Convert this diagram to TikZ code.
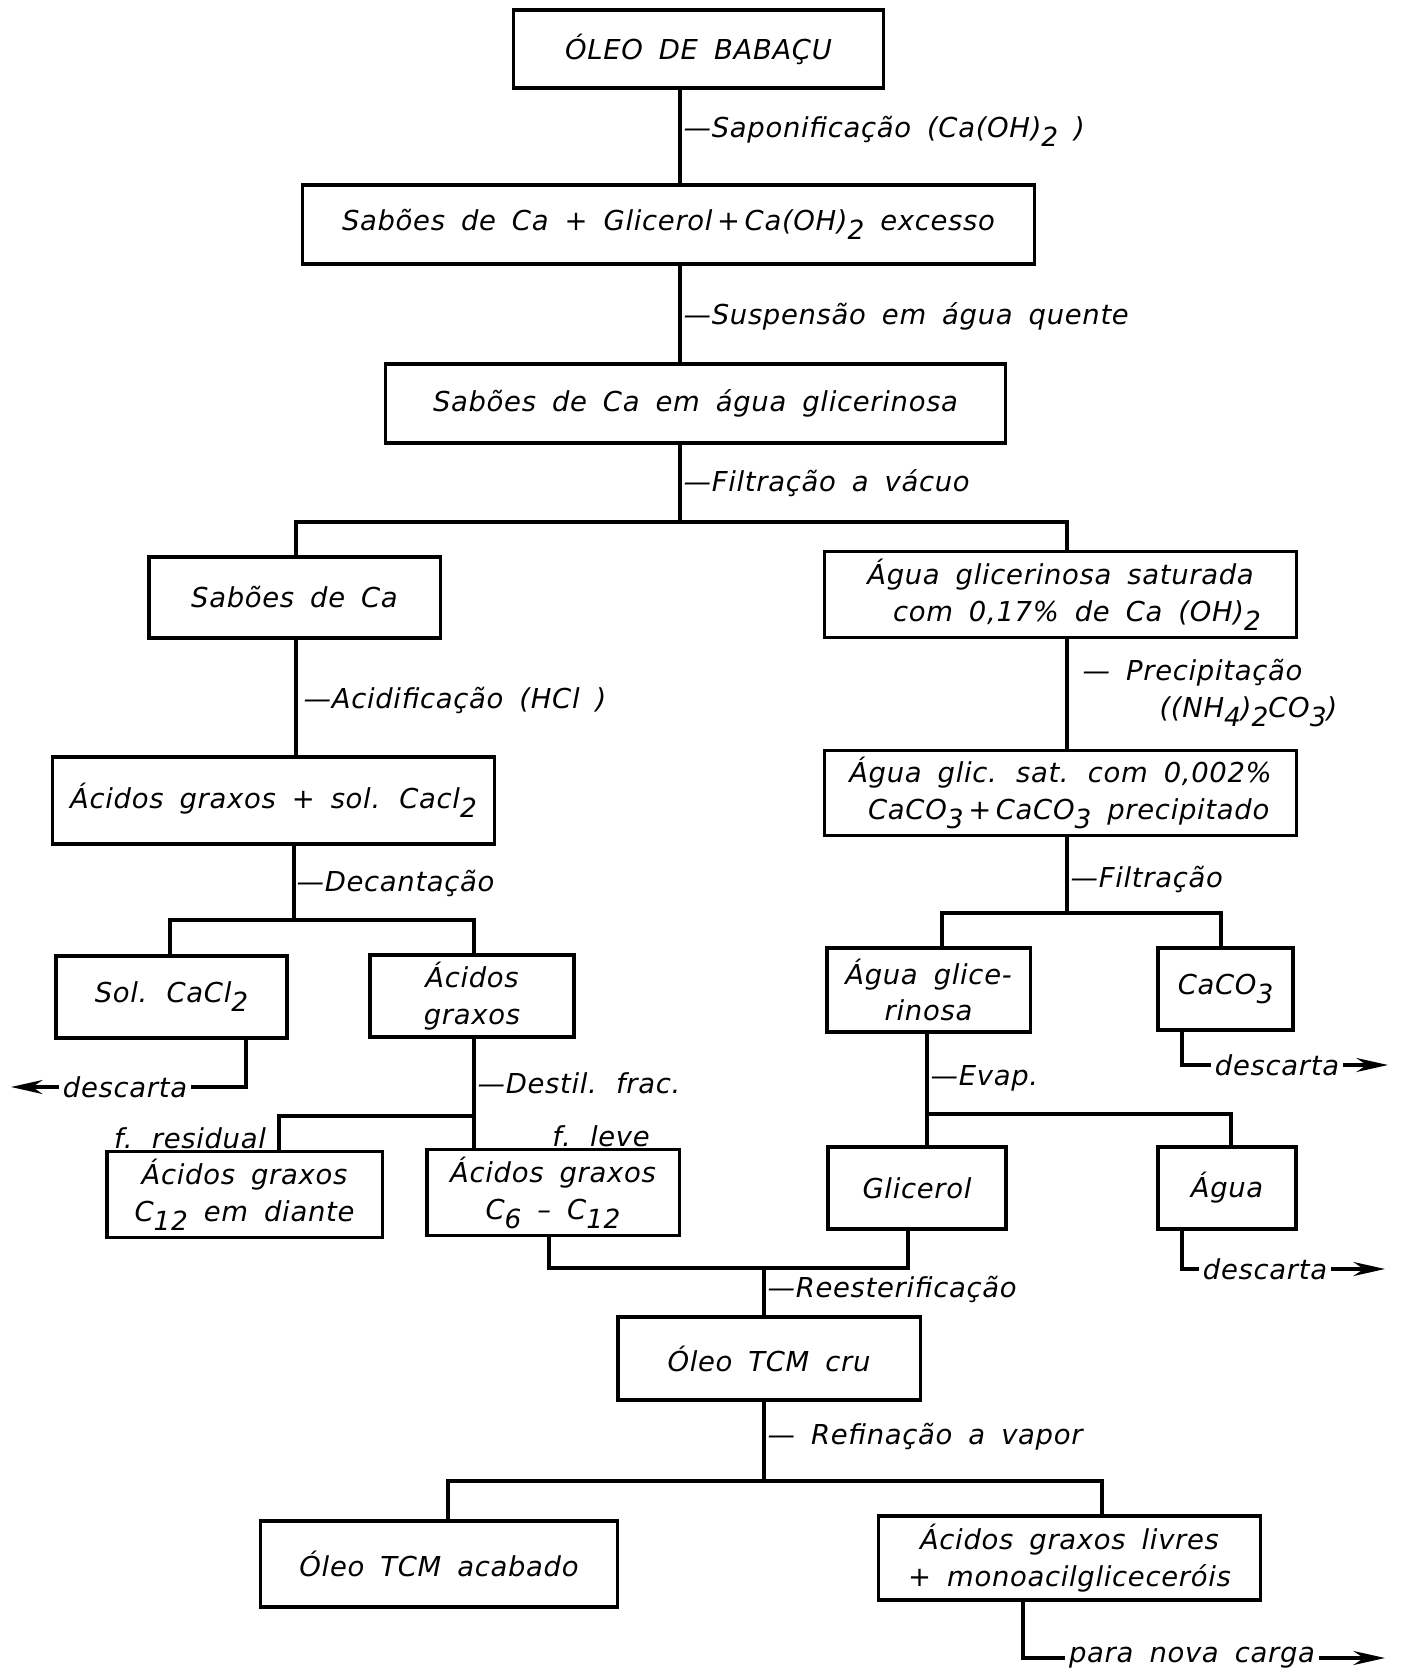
\documentclass[tikz,border=0pt]{standalone}
\usepackage{fontspec}
\setmainfont{DejaVu Sans}[WordSpace=1.7, LetterSpace=2.5]
\usepackage{tikz}
\usetikzlibrary{arrows.meta,positioning}
\tikzstyle{stage} = [rectangle, draw, line width=0.9pt, align=center, inner sep=2pt]
\tikzstyle{line} = [line width=0.9pt]
\tikzstyle{arrow} = [line width=0.9pt, -{Stealth[length=9pt,width=4pt]}]
\tikzstyle{oplabel} = [anchor=west, inner sep=0pt, align=left]
\tikzstyle{outlabel} = [inner sep=1pt]
\newcommand{\chsub}[1]{\raisebox{-0.6ex}{\fontsize{7.5}{9}\selectfont #1}}

\begin{document}
\begin{tikzpicture}[x=0.01cm, y=-0.01cm, font=\fontsize{7.8}{10.5}\selectfont\itshape]
\useasboundingbox (0,0) rectangle (1403,1671);

% Main column
\node[stage, minimum width=3.69cm, minimum height=0.78cm] (oleo) at (698.5,49) {ÓLEO DE BABAÇU};
\node[stage, minimum width=7.31cm, minimum height=0.79cm] (sabGli) at (668.5,224.5) {Sabões de Ca + Glicerol\,+\,Ca(OH)\chsub{2} excesso};
\node[stage, minimum width=6.19cm, minimum height=0.79cm] (sabAgua) at (695.5,403.5) {Sabões de Ca em água glicerinosa};

\coordinate (sp1) at (680,522);
\coordinate (sp1l) at (296,522);
\coordinate (sp1r) at (1067,522);
\draw[line] (oleo.south -| sp1) -- (sabGli.north -| sp1);
\draw[line] (sabGli.south -| sp1) -- (sabAgua.north -| sp1);
\draw[line] (sabAgua.south -| sp1) -- (sp1);
\node[oplabel] (lSap) at (683,131) {—Saponificação (Ca(OH)\chsub{2} )};
\node[oplabel] (lSusp) at (683,316) {—Suspensão em água quente};
\node[oplabel] (lFilt) at (683,483) {—Filtração a vácuo};

% Left branch
\node[stage, minimum width=2.91cm, minimum height=0.81cm] (sabCa) at (294.5,597.5) {Sabões de Ca};
\node[stage, minimum width=4.41cm, minimum height=0.87cm] (acSol) at (273.5,800.5) {Ácidos graxos + sol. Cacl\chsub{2}};
\node[stage, minimum width=2.31cm, minimum height=0.82cm] (solCa) at (171.5,997) {Sol. CaCl\chsub{2}};
\node[stage, minimum width=2.04cm, minimum height=0.80cm] (acGr) at (472,996) {Ácidos\\graxos};
\node[stage, minimum width=2.75cm, minimum height=0.85cm] (acRes) at (244.5,1194.5) {Ácidos graxos\\C\chsub{12} em diante};
\node[stage, minimum width=2.52cm, minimum height=0.85cm] (acLev) at (553,1192.5) {Ácidos graxos\\C\chsub{6} – C\chsub{12}};

\draw[line] (sabCa.north -| sp1l) -- (sp1l) -- (sp1r) -- ++(0,31);
\draw[line] (sabCa.south -| sp1l) -- (acSol.north -| sp1l);
\node[oplabel] (lAcid) at (303,700) {—Acidificação (HCl )};

\coordinate (sp2) at (294,920);
\coordinate (sp2l) at (170,920);
\coordinate (sp2r) at (474,920);
\draw[line] (acSol.south -| sp2) -- (sp2);
\draw[line] (solCa.north -| sp2l) -- (sp2l) -- (sp2r) -- (acGr.north -| sp2r);
\node[oplabel] (lDec) at (296,883) {—Decantação};

\coordinate (d1) at (246,1087);
\coordinate (e1) at (11,1087);
\node[outlabel] (dsc1) at (125,1087) {descarta};
\draw[line] (solCa.south -| d1) -- (d1) -- (dsc1.east);
\draw[arrow] (dsc1.west) -- (e1);

\coordinate (sp3) at (474,1116);
\coordinate (sp3l) at (279,1116);
\draw[line] (acGr.south -| sp3) -- (acLev.north -| sp3);
\draw[line] (sp3) -- (sp3l) -- (acRes.north -| sp3l);
\node[oplabel] (lDest) at (477,1083) {—Destil. frac.};
\node[outlabel] (fRes) at (190,1138) {f. residual};
\node[outlabel] (fLev) at (601,1136) {f. leve};

% Right branch
\node[stage, minimum width=4.71cm, minimum height=0.83cm] (aguaSat) at (1060.5,594.5) {Água glicerinosa saturada\\\hspace*{1.2em}com 0,17\% de Ca (OH)\chsub{2}};
\node[stage, minimum width=4.71cm, minimum height=0.82cm] (aguaPrec) at (1060.5,793) {Água glic. sat. com 0,002\%\\\hspace*{0.6em}CaCO\chsub{3}\,+\,CaCO\chsub{3} precipitado};
\node[stage, minimum width=2.03cm, minimum height=0.84cm] (aguaGl) at (928.5,990) {Água glice-\\rinosa};
\node[stage, minimum width=1.35cm, minimum height=0.82cm] (caco) at (1225.5,989) {CaCO\chsub{3}};
\node[stage, minimum width=1.78cm, minimum height=0.82cm] (glic) at (917,1188) {Glicerol};
\node[stage, minimum width=1.38cm, minimum height=0.82cm] (agua) at (1227,1188) {Água};

\draw[line] (aguaSat.south -| sp1r) -- (aguaPrec.north -| sp1r);
\node[oplabel] (lPrec) at (1082,693) {— Precipitação\\\hspace*{2.8em}((NH\chsub{4})\chsub{2}CO\chsub{3})};

\coordinate (sp4) at (1067,913);
\coordinate (sp4l) at (942,913);
\coordinate (sp4r) at (1221,913);
\draw[line] (aguaPrec.south -| sp4) -- (sp4);
\draw[line] (aguaGl.north -| sp4l) -- (sp4l) -- (sp4r) -- (caco.north -| sp4r);
\node[oplabel] (lFilt2) at (1070,879) {—Filtração};

\coordinate (d2) at (1182,1065);
\coordinate (e2) at (1388,1065);
\node[outlabel] (dsc2) at (1277,1065) {descarta};
\draw[line] (caco.south -| d2) -- (d2) -- (dsc2.west);
\draw[arrow] (dsc2.east) -- (e2);

\coordinate (sp5) at (927,1114);
\coordinate (sp5r) at (1231,1114);
\draw[line] (aguaGl.south -| sp5) -- (glic.north -| sp5);
\draw[line] (sp5) -- (sp5r) -- (agua.north -| sp5r);
\node[oplabel] (lEvap) at (930,1078) {—Evap.};

\coordinate (d3) at (1182,1269);
\coordinate (e3) at (1385,1269);
\node[outlabel] (dsc3) at (1265,1269) {descarta};
\draw[line] (agua.south -| d3) -- (d3) -- (dsc3.west);
\draw[arrow] (dsc3.east) -- (e3);

% Re-esterification and refining
\node[stage, minimum width=3.02cm, minimum height=0.83cm] (tcmCru) at (769,1358.5) {Óleo TCM cru};
\node[stage, minimum width=3.56cm, minimum height=0.86cm] (tcmAc) at (439,1564) {Óleo TCM acabado};
\node[stage, minimum width=3.81cm, minimum height=0.84cm] (acLiv) at (1069.5,1558) {Ácidos graxos livres\\+ monoacilgliceceróis};

\coordinate (sp6) at (764,1268);
\coordinate (sp6l) at (549,1268);
\coordinate (sp6r) at (908,1268);
\draw[line] (acLev.south -| sp6l) -- (sp6l) -- (sp6r) -- (glic.south -| sp6r);
\draw[line] (sp6) -- (tcmCru.north -| sp6);
\node[oplabel] (lRees) at (767,1289) {—Reesterificação};

\coordinate (sp7) at (764,1481);
\coordinate (sp7l) at (448,1481);
\coordinate (sp7r) at (1102,1481);
\draw[line] (tcmCru.south -| sp7) -- (sp7);
\draw[line] (tcmAc.north -| sp7l) -- (sp7l) -- (sp7r) -- (acLiv.north -| sp7r);
\node[oplabel] (lRef) at (767,1437) {— Refinação a vapor};

\coordinate (d4) at (1023,1658);
\coordinate (e4) at (1385,1658);
\node[outlabel] (dsc4) at (1192,1658) {para nova carga};
\draw[line] (acLiv.south -| d4) -- (d4) -- (dsc4.west);
\draw[arrow] (dsc4.east) -- (e4);
\end{tikzpicture}
\end{document}
